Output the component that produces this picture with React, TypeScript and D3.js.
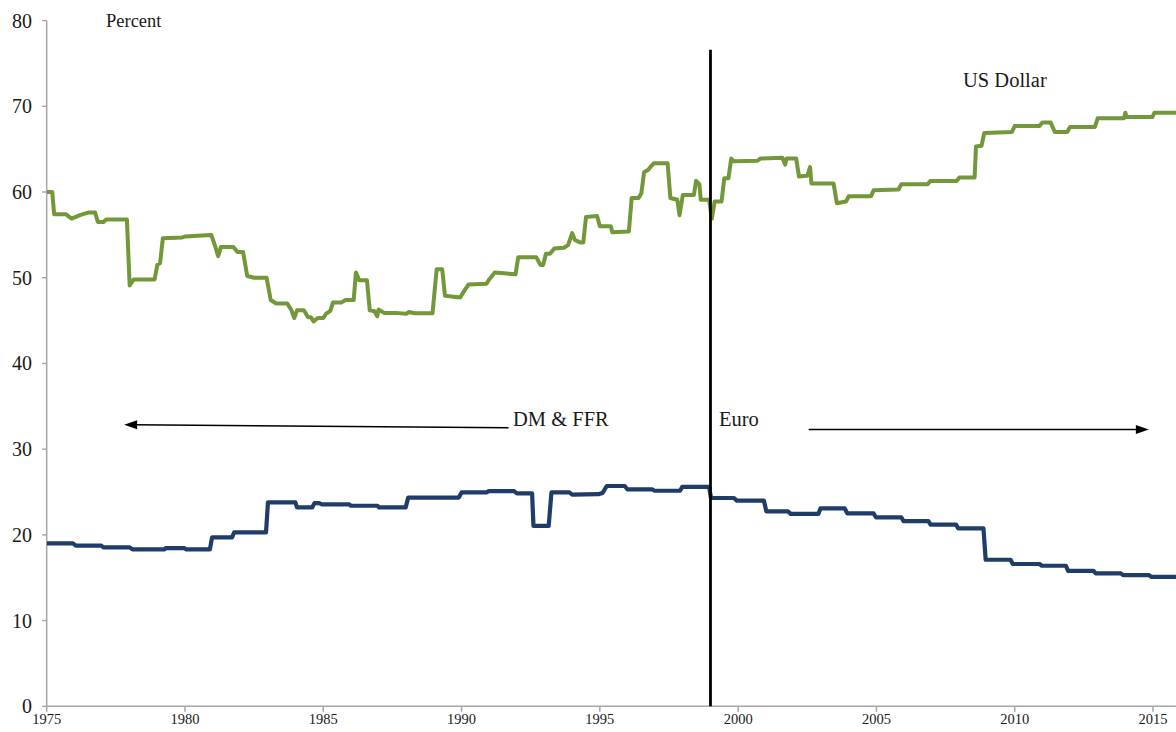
import React from "react";
import * as d3 from "d3";

// US Dollar share (percent) – breakpoints
const usdYears = [
  1975.0, 1975.2, 1975.27, 1975.7, 1975.9, 1976.2, 1976.5, 1976.75, 1976.85, 1977.05, 1977.15, 1977.9,
  1978.0, 1978.15, 1978.9, 1979.0, 1979.1, 1979.2, 1979.9, 1980.0, 1980.95, 1981.1, 1981.2, 1981.3,
  1981.75, 1981.9, 1982.1, 1982.25, 1982.5, 1982.95, 1983.1, 1983.3, 1983.7, 1983.85, 1983.95, 1984.05,
  1984.3, 1984.45, 1984.55, 1984.65, 1984.8, 1985.0, 1985.1, 1985.25, 1985.35, 1985.65, 1985.8, 1986.1,
  1986.18, 1986.3, 1986.58, 1986.68, 1986.85, 1986.95, 1987.0, 1987.2, 1987.6, 1988.0, 1988.1, 1988.3,
  1988.95, 1989.1, 1989.3, 1989.4, 1989.95, 1990.1, 1990.25, 1990.9, 1991.0, 1991.2, 1991.95, 1992.05,
  1992.7, 1992.85, 1992.95, 1993.05, 1993.2, 1993.35, 1993.7, 1993.85, 1994.0, 1994.1, 1994.3, 1994.4,
  1994.5, 1994.9, 1995.0, 1995.4, 1995.45, 1996.05, 1996.15, 1996.4, 1996.5, 1996.6, 1996.75, 1996.85,
  1996.95, 1997.45, 1997.55, 1997.8, 1997.88, 1998.0, 1998.4, 1998.48, 1998.6, 1998.65, 1998.95, 1999.05,
  1999.15, 1999.4, 1999.5, 1999.65, 1999.75, 1999.85, 2000.7, 2000.8, 2001.6, 2001.7, 2001.75, 2002.1,
  2002.2, 2002.5, 2002.6, 2002.65, 2003.45, 2003.57, 2003.9, 2004.0, 2004.8, 2004.9, 2005.8, 2005.9,
  2006.85, 2006.95, 2007.9, 2008.0, 2008.55, 2008.6, 2008.8, 2008.9, 2009.9, 2010.0, 2010.9, 2011.0,
  2011.3, 2011.45, 2011.9, 2012.0, 2012.9, 2013.0, 2013.95, 2014.0, 2014.05, 2014.98, 2015.05, 2015.9,
];
const usdValues = [
  60.0, 60.0, 57.4, 57.4, 56.9, 57.3, 57.6, 57.6, 56.5, 56.5, 56.8, 56.8,
  49.1, 49.8, 49.8, 51.5, 51.7, 54.6, 54.7, 54.8, 55.0, 53.6, 52.5, 53.6,
  53.6, 53.0, 53.0, 50.2, 50.0, 50.0, 47.4, 47.0, 47.0, 46.2, 45.3, 46.2,
  46.2, 45.4, 45.4, 44.9, 45.3, 45.3, 45.8, 46.1, 47.1, 47.1, 47.4, 47.4,
  50.6, 49.7, 49.7, 46.2, 46.1, 45.5, 46.3, 45.9, 45.9, 45.8, 46.0, 45.85,
  45.85, 51.0, 51.0, 47.9, 47.7, 48.5, 49.2, 49.3, 49.8, 50.6, 50.4, 52.4,
  52.4, 51.5, 51.5, 52.8, 52.8, 53.4, 53.5, 53.8, 55.2, 54.4, 54.1, 54.1,
  57.1, 57.2, 56.0, 56.0, 55.3, 55.4, 59.3, 59.3, 59.85, 62.3, 62.6, 63.0,
  63.35, 63.35, 59.3, 59.1, 57.3, 59.65, 59.65, 61.3, 60.9, 59.1, 59.1, 56.9,
  58.9, 58.9, 61.6, 61.6, 63.9, 63.6, 63.65, 63.9, 64.0, 63.2, 63.9, 63.9,
  61.8, 61.9, 62.9, 61.0, 61.0, 58.7, 58.9, 59.5, 59.5, 60.2, 60.3, 60.9,
  60.9, 61.3, 61.3, 61.7, 61.7, 65.3, 65.4, 66.9, 67.0, 67.7, 67.7, 68.1,
  68.1, 67.0, 67.0, 67.6, 67.6, 68.6, 68.6, 69.25, 68.75, 68.75, 69.25, 69.25,
];

// DM & FFR (to 1998) then Euro share (percent)
const eurYears = [
  1975.0, 1975.95, 1976.05, 1976.97, 1977.05, 1978.0, 1978.1, 1979.26, 1979.3, 1979.98, 1980.05, 1980.9,
  1980.98, 1981.7, 1981.78, 1982.93, 1983.0, 1983.99, 1984.05, 1984.6, 1984.68, 1984.85, 1984.95, 1985.94,
  1986.0, 1986.96, 1987.02, 1987.98, 1988.07, 1989.9, 1990.0, 1990.9, 1990.98, 1991.9, 1992.0, 1992.55,
  1992.6, 1993.15, 1993.25, 1993.9, 1994.0, 1994.95, 1995.1, 1995.25, 1995.9, 1996.0, 1996.9, 1996.98,
  1997.9, 1997.98, 1998.95, 1999.02, 1999.85, 1999.95, 2000.93, 2001.02, 2001.8, 2001.9, 2002.9, 2002.98,
  2003.85, 2003.95, 2004.9, 2004.98, 2005.9, 2005.98, 2006.88, 2006.96, 2007.88, 2007.96, 2008.87, 2008.95,
  2009.85, 2009.93, 2010.9, 2010.98, 2011.85, 2011.93, 2012.85, 2012.93, 2013.84, 2013.92, 2014.86, 2014.94,
  2015.9,
];
const eurValues = [
  19.0, 19.0, 18.75, 18.75, 18.55, 18.55, 18.3, 18.3, 18.45, 18.45, 18.3, 18.3,
  19.7, 19.7, 20.3, 20.3, 23.8, 23.8, 23.2, 23.2, 23.7, 23.7, 23.55, 23.55,
  23.4, 23.4, 23.2, 23.2, 24.35, 24.35, 24.95, 24.95, 25.1, 25.1, 24.85, 24.85,
  21.05, 21.05, 24.95, 24.95, 24.7, 24.75, 24.9, 25.7, 25.7, 25.3, 25.3, 25.15,
  25.15, 25.6, 25.6, 24.3, 24.3, 24.0, 24.0, 22.75, 22.75, 22.45, 22.45, 23.1,
  23.1, 22.5, 22.5, 22.05, 22.05, 21.6, 21.6, 21.2, 21.2, 20.75, 20.75, 17.1,
  17.1, 16.6, 16.6, 16.4, 16.4, 15.8, 15.8, 15.5, 15.5, 15.3, 15.3, 15.1,
  15.1,
];

const yTicks = [0, 10, 20, 30, 40, 50, 60, 70, 80];
const xTicks = [1975, 1980, 1985, 1990, 1995, 2000, 2005, 2010, 2015];

const W = 1176;
const H = 732;
const FONT = "'Liberation Serif', 'Times New Roman', serif";

export default function App() {
  const x = d3.scaleLinear().domain([1975, 2015]).range([46.7, 1153]);
  const y = d3.scaleLinear().domain([0, 80]).range([706.3, 20.6]);
  const plotRight = W;

  const line = d3
    .line<[number, number]>()
    .x((d) => x(d[0]))
    .y((d) => y(d[1]))
    .curve(d3.curveLinear);

  const usd: [number, number][] = usdYears.map((t, i) => [t, usdValues[i]]);
  const eur: [number, number][] = eurYears.map((t, i) => [t, eurValues[i]]);

  const axisColor = "#a6a6a6";
  const textColor = "#1a1a1a";

  // annotation arrows
  const la = { x1: x(1991.7), y1: y(32.5), x2: x(1977.8), y2: y(32.85) };
  const ra = { x1: x(2002.55), y1: y(32.3), x2: x(2014.85), y2: y(32.3) };

  const arrowHead = (x1: number, y1: number, x2: number, y2: number) => {
    const ang = Math.atan2(y2 - y1, x2 - x1);
    const len = 13;
    const hw = 4.5;
    const bx = x2 - len * Math.cos(ang);
    const by = y2 - len * Math.sin(ang);
    const px = -Math.sin(ang) * hw;
    const py = Math.cos(ang) * hw;
    return `M${x2},${y2}L${bx + px},${by + py}L${bx - px},${by - py}Z`;
  };

  return (
    <div style={{ position: "absolute", left: 0, top: 0 }}>
      <svg width={W} height={H} style={{ display: "block", background: "#fff" }}>
        <defs>
          <clipPath id="plot">
            <rect x={x(1975)} y={0} width={plotRight - x(1975)} height={H} />
          </clipPath>
        </defs>

        {/* Y axis */}
        <line x1={x(1975)} x2={x(1975)} y1={y(80)} y2={y(0)} stroke={axisColor} strokeWidth={1.5} />
        {yTicks.map((t) => (
          <g key={"y" + t}>
            <line x1={x(1975) - 4.5} x2={x(1975)} y1={y(t)} y2={y(t)} stroke={axisColor} strokeWidth={1.5} />
            <text
              x={32}
              y={y(t)}
              dy="0.35em"
              textAnchor="end"
              fontFamily={FONT}
              fontSize={20}
              fill={textColor}
            >
              {t}
            </text>
          </g>
        ))}

        {/* X axis */}
        <line x1={x(1975)} x2={plotRight} y1={y(0)} y2={y(0)} stroke={axisColor} strokeWidth={1.5} />
        {xTicks.map((t) => (
          <g key={"x" + t}>
            <line x1={x(t)} x2={x(t)} y1={y(0)} y2={y(0) + 5.5} stroke={axisColor} strokeWidth={1.5} />
            <text
              x={x(t)}
              y={724}
              textAnchor="middle"
              fontFamily={FONT}
              fontSize={14.5}
              fill={textColor}
            >
              {t}
            </text>
          </g>
        ))}

        {/* Series */}
        <g clipPath="url(#plot)">
          <path d={line(usd) || ""} fill="none" stroke="#72983a" strokeWidth={4} strokeLinejoin="round" />
          <path d={line(eur) || ""} fill="none" stroke="#1f3d68" strokeWidth={4.2} strokeLinejoin="round" />
        </g>

        {/* Euro introduction divider */}
        <line x1={x(1999)} x2={x(1999)} y1={y(76.6)} y2={y(0)} stroke="#000" strokeWidth={2.8} />

        {/* Labels */}
        <text x={106} y={26.5} fontFamily={FONT} fontSize={18.5} fill={textColor}>
          Percent
        </text>
        <text x={963} y={86.5} fontFamily={FONT} fontSize={20.5} fill={textColor}>
          US Dollar
        </text>
        <text x={513} y={425.5} fontFamily={FONT} fontSize={20.5} fill={textColor}>
          DM &amp; FFR
        </text>
        <text x={719} y={425.5} fontFamily={FONT} fontSize={20.5} fill={textColor}>
          Euro
        </text>

        {/* Arrows */}
        <line x1={la.x1} y1={la.y1} x2={la.x2 + 10} y2={la.y2} stroke="#000" strokeWidth={1.4} />
        <path d={arrowHead(la.x1, la.y1, la.x2, la.y2)} fill="#000" />
        <line x1={ra.x1} y1={ra.y1} x2={ra.x2 - 10} y2={ra.y2} stroke="#000" strokeWidth={1.4} />
        <path d={arrowHead(ra.x1, ra.y1, ra.x2, ra.y2)} fill="#000" />
      </svg>
    </div>
  );
}
